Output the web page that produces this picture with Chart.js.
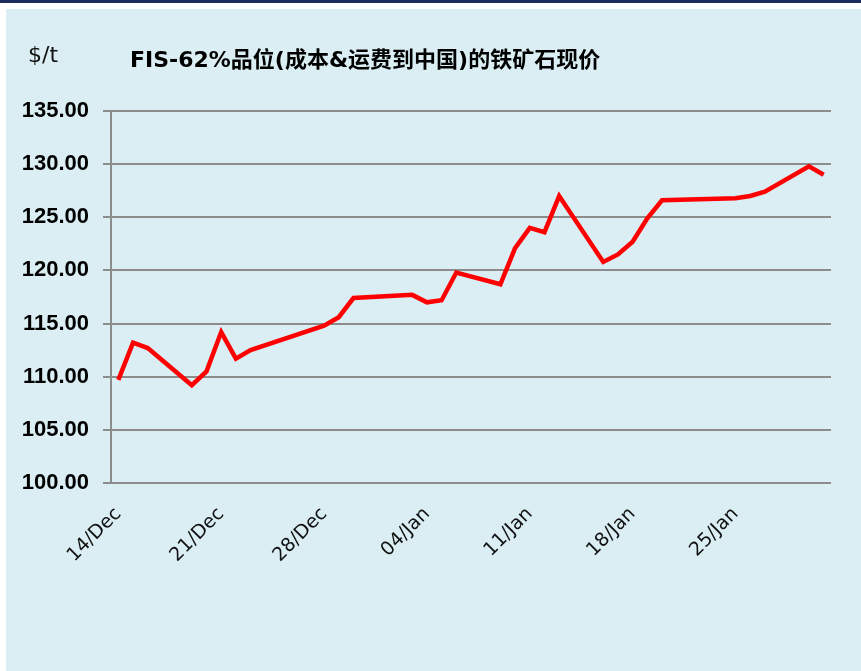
<!DOCTYPE html>
<html>
<head>
<meta charset="utf-8">
<script src="https://cdn.jsdelivr.net/npm/chart.js@4.4.0/dist/chart.umd.min.js"></script>
<style>
    html, body { margin: 0; padding: 0; background: #ffffff; }
    body { width: 861px; height: 671px; position: relative; overflow: hidden; }
    .top-bar { position: absolute; left: 0; top: 0; width: 861px; height: 3px; background: #1f2a5c; }
    .panel { position: absolute; left: 6px; top: 9px; width: 855px; height: 662px; background: #daeef3; }
    .unit { position: absolute; left: 22px; top: 33px; font: 22px "DejaVu Sans", sans-serif; color: #111; }
    .title { position: absolute; left: 124px; top: 32px; font: bold 22px "DejaVu Sans", "Noto Sans CJK SC", sans-serif; color: #000; white-space: nowrap; }
    .chart-box { position: absolute; left: 0; top: 0; width: 855px; height: 662px; }
</style>
</head>
<body>
<div class="top-bar"></div>
<div class="panel">
    <div class="chart-box"><canvas id="oreChart"></canvas></div>
    <div class="unit">$/t</div>
    <div class="title">FIS-62%品位(成本&amp;运费到中国)的铁矿石现价</div>
</div>
<script>
// one slot per calendar day, 14/Dec .. 31/Jan; null = no quote that day
const days = [
    '14/Dec', '15/Dec', '16/Dec', '17/Dec', '18/Dec', '19/Dec', '20/Dec',
    '21/Dec', '22/Dec', '23/Dec', '24/Dec', '25/Dec', '26/Dec', '27/Dec',
    '28/Dec', '29/Dec', '30/Dec', '31/Dec', '01/Jan', '02/Jan', '03/Jan',
    '04/Jan', '05/Jan', '06/Jan', '07/Jan', '08/Jan', '09/Jan', '10/Jan',
    '11/Jan', '12/Jan', '13/Jan', '14/Jan', '15/Jan', '16/Jan', '17/Jan',
    '18/Jan', '19/Jan', '20/Jan', '21/Jan', '22/Jan', '23/Jan', '24/Jan',
    '25/Jan', '26/Jan', '27/Jan', '28/Jan', '29/Jan', '30/Jan', '31/Jan'
];

const prices = [
    109.7, 113.2, 112.7, null, null, 109.2, 110.5,
    114.2, 111.7, 112.5, null, null, null, null,
    114.8, 115.6, 117.4, null, null, null, 117.7,
    117.0, 117.2, 119.8, null, null, 118.7, 122.1,
    124.0, 123.6, 127.0, null, null, 120.8, 121.5,
    122.7, 124.9, 126.6, null, null, null, null,
    126.8, 127.0, 127.4, null, null, 129.8, 129.0
];

const shownDays = ['14/Dec', '21/Dec', '28/Dec', '04/Jan', '11/Jan', '18/Jan', '25/Jan'];

const yMin = 100;
const yMax = 135;
const yStep = 5;

document.addEventListener('DOMContentLoaded', function () {
    const ctx = document.getElementById('oreChart');
    new Chart(ctx, {
        type: 'line',
        data: {
            labels: days,
            datasets: [{
                label: 'FIS-62%',
                data: prices,
                borderColor: '#ff0000',
                borderWidth: 4.5,
                pointRadius: 0,
                tension: 0,
                spanGaps: true,
                borderJoinStyle: 'miter',
                borderCapStyle: 'butt'
            }]
        },
        options: {
            responsive: true,
            maintainAspectRatio: false,
            animation: false,
            layout: { padding: { top: 102, right: 30, bottom: 0, left: 0 } },
            plugins: {
                legend: { display: false },
                tooltip: { enabled: false }
            },
            scales: {
                x: {
                    offset: true,
                    grid: { display: false, drawTicks: false },
                    border: { display: false },
                    ticks: {
                        autoSkip: false,
                        minRotation: 45,
                        maxRotation: 45,
                        padding: 20,
                        color: '#111',
                        font: { family: "'DejaVu Sans', sans-serif", size: 19 },
                        callback: function (val) {
                            const lab = this.getLabelForValue(val);
                            return shownDays.includes(lab) ? lab : '';
                        }
                    },
                    afterFit: function (scale) { scale.height = 188; }
                },
                y: {
                    min: yMin,
                    max: yMax,
                    grid: { color: '#8c8c8c', lineWidth: 2, tickLength: 8 },
                    border: { display: true, color: '#8c8c8c', width: 2 },
                    ticks: {
                        stepSize: yStep,
                        padding: 14,
                        color: '#000',
                        font: { family: "'Liberation Sans', sans-serif", size: 22, weight: 'bold' },
                        callback: function (v) { return v.toFixed(2); }
                    },
                    afterFit: function (scale) { scale.width = 105; }
                }
            }
        }
    });
});
</script>
</body>
</html>
